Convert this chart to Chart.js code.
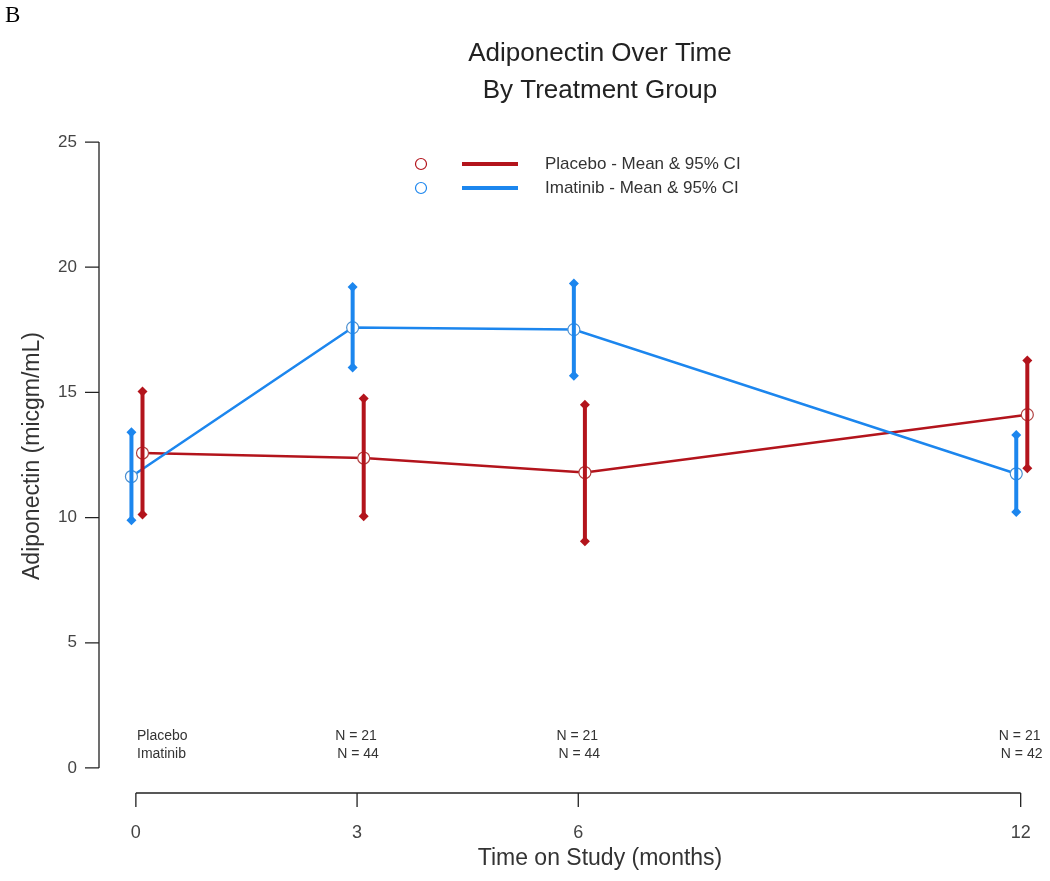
<!DOCTYPE html>
<html>
<head>
<meta charset="utf-8">
<script src="https://cdn.jsdelivr.net/npm/chart.js@4.4.0/dist/chart.umd.min.js"></script>
<style>
  body { margin: 0; background: #fff; }
</style>
</head>
<body>
<canvas id="chart" width="1050" height="881"></canvas>
<script>
// values
const months = [0, 3, 6, 12];
const placeboMean = [12.58, 12.38, 11.80, 14.11];
const placeboLo = [10.12, 10.05, 9.06, 11.97];
const placeboHi = [15.04, 14.76, 14.51, 16.27];
const imatinibMean = [11.64, 17.59, 17.51, 11.75];
const imatinibLo = [9.89, 15.99, 15.67, 10.22];
const imatinibHi = [13.41, 19.21, 19.35, 13.30];

const xTicks = [0, 3, 6, 12];
const yTicks = [0, 5, 10, 15, 20, 25];

const nMonths = [3, 6, 12];
const nPlacebo = [21, 21, 21];
const nImatinib = [44, 44, 42];

// small horizontal dodge so the two groups don't overlap
const placeboShift = 0.09;
const imatinibShift = -0.06;

const red = '#B3141C';
const blue = '#1C86EE';
const font = "'Liberation Sans', Arial, sans-serif";

function meanPoints(mean, shift) {
    return months.map((m, i) => ({ x: m + shift, y: mean[i] }));
}

function ciPoints(lo, hi, shift) {
    const pts = [];
    months.forEach((m, i) => {
        pts.push({ x: m + shift, y: lo[i] }, { x: m + shift, y: hi[i] }, { x: m + shift, y: null });
    });
    return pts;
}

// R style detached axes, titles, legend and N counts
const rDecor = {
    id: 'rDecor',
    afterDraw(c) {
        const ctx = c.ctx;
        const xs = c.scales.x, ys = c.scales.y;
        const area = c.chartArea;
        ctx.save();
        ctx.strokeStyle = '#222';
        ctx.lineWidth = 1.3;

        // y axis
        const ax = area.left;
        ctx.beginPath();
        ctx.moveTo(ax, ys.getPixelForValue(yTicks[0]));
        ctx.lineTo(ax, ys.getPixelForValue(yTicks[yTicks.length - 1]));
        yTicks.forEach(t => {
            const py = ys.getPixelForValue(t);
            ctx.moveTo(ax, py);
            ctx.lineTo(ax - 14, py);
        });
        ctx.stroke();
        ctx.fillStyle = '#444';
        ctx.font = '17px ' + font;
        ctx.textAlign = 'right';
        ctx.textBaseline = 'middle';
        yTicks.forEach(t => ctx.fillText(String(t), ax - 22, ys.getPixelForValue(t)));

        // x axis
        const ay = area.bottom;
        ctx.beginPath();
        ctx.moveTo(xs.getPixelForValue(xTicks[0]), ay);
        ctx.lineTo(xs.getPixelForValue(xTicks[xTicks.length - 1]), ay);
        xTicks.forEach(t => {
            const px = xs.getPixelForValue(t);
            ctx.moveTo(px, ay);
            ctx.lineTo(px, ay + 14);
        });
        ctx.stroke();
        ctx.textAlign = 'center';
        ctx.font = '18px ' + font;
        xTicks.forEach(t => ctx.fillText(String(t), xs.getPixelForValue(t), ay + 40));

        // axis titles
        ctx.fillStyle = '#333';
        ctx.font = '23px ' + font;
        ctx.fillText('Time on Study (months)', 600, 859);
        ctx.save();
        ctx.translate(33, 456);
        ctx.rotate(-Math.PI / 2);
        ctx.fillText('Adiponectin (micgm/mL)', 0, 0);
        ctx.restore();

        // main title
        ctx.fillStyle = '#222';
        ctx.font = '26px ' + font;
        ctx.fillText('Adiponectin Over Time', 600, 54);
        ctx.fillText('By Treatment Group', 600, 91);

        // panel letter
        ctx.fillStyle = '#000';
        ctx.font = "23px 'Liberation Serif', 'Times New Roman', serif";
        ctx.textAlign = 'left';
        ctx.textBaseline = 'alphabetic';
        ctx.fillText('B', 5, 22);

        // sample sizes
        ctx.fillStyle = '#333';
        ctx.font = '14px ' + font;
        ctx.textBaseline = 'middle';
        ctx.fillText('Placebo', 137, 736);
        ctx.fillText('Imatinib', 137, 754);
        ctx.textAlign = 'center';
        nMonths.forEach((m, i) => {
            const px = xs.getPixelForValue(m);
            ctx.fillText('N = ' + nPlacebo[i], px - 1, 736);
            ctx.fillText('N = ' + nImatinib[i], px + 1, 754);
        });

        // legend
        const rows = [
            { label: 'Placebo - Mean & 95% CI', color: red, y: 164 },
            { label: 'Imatinib - Mean & 95% CI', color: blue, y: 188 }
        ];
        ctx.textAlign = 'left';
        ctx.font = '17px ' + font;
        rows.forEach(r => {
            ctx.strokeStyle = r.color;
            ctx.lineWidth = 1.2;
            ctx.beginPath();
            ctx.arc(421, r.y, 5.5, 0, Math.PI * 2);
            ctx.stroke();
            ctx.lineWidth = 4;
            ctx.beginPath();
            ctx.moveTo(462, r.y);
            ctx.lineTo(518, r.y);
            ctx.stroke();
            ctx.fillStyle = '#333';
            ctx.fillText(r.label, 545, r.y);
        });
        ctx.restore();
    }
};

const chart = document.querySelector('#chart').getContext('2d');

new Chart(chart, {
    type: 'line',
    data: {
        datasets: [
            {
                label: 'Placebo CI',
                data: ciPoints(placeboLo, placeboHi, placeboShift),
                borderColor: red,
                backgroundColor: red,
                borderWidth: 4,
                pointStyle: 'rectRot',
                pointRadius: 5,
                pointBorderWidth: 0,
                spanGaps: false,
                order: 1
            },
            {
                label: 'Imatinib CI',
                data: ciPoints(imatinibLo, imatinibHi, imatinibShift),
                borderColor: blue,
                backgroundColor: blue,
                borderWidth: 4,
                pointStyle: 'rectRot',
                pointRadius: 5,
                pointBorderWidth: 0,
                spanGaps: false,
                order: 1
            },
            {
                label: 'Placebo',
                data: meanPoints(placeboMean, placeboShift),
                borderColor: red,
                borderWidth: 2.5,
                pointStyle: 'circle',
                pointRadius: 6,
                pointBackgroundColor: '#fff',
                pointBorderColor: '#B04040',
                pointBorderWidth: 1.2,
                order: 3
            },
            {
                label: 'Imatinib',
                data: meanPoints(imatinibMean, imatinibShift),
                borderColor: blue,
                borderWidth: 2.5,
                pointStyle: 'circle',
                pointRadius: 6,
                pointBackgroundColor: '#fff',
                pointBorderColor: '#4A8FD0',
                pointBorderWidth: 1.2,
                order: 2
            }
        ]
    },
    options: {
        responsive: false,
        animation: false,
        layout: { padding: { left: 99, right: 5, top: 117, bottom: 88 } },
        plugins: {
            legend: { display: false },
            tooltip: { enabled: false }
        },
        scales: {
            x: { type: 'linear', min: -0.5, max: 12.3, display: false },
            y: { min: -1, max: 26, display: false }
        }
    },
    plugins: [rDecor]
});
</script>
</body>
</html>
